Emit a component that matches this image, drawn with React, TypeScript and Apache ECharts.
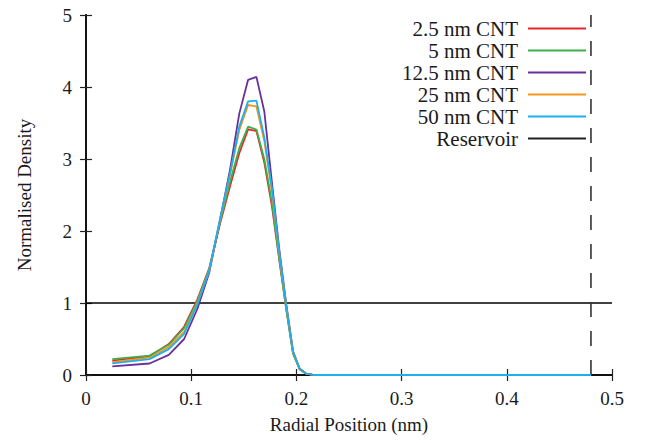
import React, { useEffect, useRef } from "react";
import * as echarts from "echarts";

const radius = [0.025, 0.0604, 0.0787, 0.0933, 0.1059, 0.1171, 0.1274, 0.1369, 0.1457, 0.1541, 0.162, 0.1695, 0.1767, 0.1837, 0.1904, 0.1968, 0.2031, 0.2091, 0.215, 0.2208, 0.25, 0.3, 0.35, 0.4, 0.45, 0.48];
const cnt2_5 = [0.20, 0.26, 0.43, 0.67, 1.05, 1.48, 2.10, 2.62, 3.08, 3.41, 3.39, 2.95, 2.35, 1.60, 0.92, 0.30, 0.08, 0.02, 0.005, 0, 0, 0, 0, 0, 0, 0];
const cnt5 = [0.22, 0.27, 0.42, 0.65, 1.03, 1.47, 2.12, 2.68, 3.15, 3.45, 3.41, 3.00, 2.40, 1.62, 0.90, 0.30, 0.08, 0.02, 0.005, 0, 0, 0, 0, 0, 0, 0];
const cnt12_5 = [0.12, 0.16, 0.28, 0.50, 0.92, 1.42, 2.15, 2.85, 3.63, 4.10, 4.14, 3.66, 2.68, 1.75, 0.98, 0.33, 0.09, 0.02, 0.005, 0, 0, 0, 0, 0, 0, 0];
const cnt25 = [0.18, 0.24, 0.39, 0.60, 1.00, 1.45, 2.15, 2.78, 3.40, 3.75, 3.73, 3.25, 2.55, 1.68, 0.95, 0.32, 0.08, 0.02, 0.005, 0, 0, 0, 0, 0, 0, 0];
const cnt50 = [0.16, 0.22, 0.36, 0.57, 0.98, 1.45, 2.17, 2.80, 3.45, 3.80, 3.81, 3.30, 2.60, 1.70, 0.95, 0.32, 0.08, 0.02, 0.005, 0, 0, 0, 0, 0, 0, 0];

const seriesNames = ["2.5 nm CNT", "5 nm CNT", "12.5 nm CNT", "25 nm CNT", "50 nm CNT"];
const seriesColors = ["#e8252b", "#3db04b", "#6a2f98", "#f7951d", "#1ab1ec"];
const seriesValues = [cnt2_5, cnt5, cnt12_5, cnt25, cnt50];

const reservoirX = [0, 0.5];
const reservoirY = [1, 1];
const wallX = [0.48, 0.48];
const wallY = [0, 5];

const FONT = "Liberation Serif";

export default function App() {
  const ref = useRef<HTMLDivElement>(null);
  useEffect(() => {
    if (!ref.current) return;
    const chart = echarts.init(ref.current, undefined, { renderer: "svg" });
    const axisLine = { show: true, lineStyle: { color: "#111", width: 1.8 } };
    const tick = { show: true, inside: true, length: 6, lineStyle: { color: "#222", width: 1.2 } };
    const label = { fontFamily: FONT, fontSize: 19, color: "#1a1a1a" };
    const lineSeries = seriesNames.map((name, i) => ({
      name,
      type: "line",
      data: radius.map((x, j) => [x, seriesValues[i][j]]),
      symbol: "none",
      lineStyle: { color: seriesColors[i], width: 1.8 },
      itemStyle: { color: seriesColors[i] },
      z: 3,
    }));
    chart.setOption({
      animation: false,
      grid: { left: 86, right: 34, top: 15, bottom: 68 },
      legend: {
        orient: "vertical",
        align: "right",
        right: 60,
        top: 18,
        padding: 0,
        itemWidth: 58,
        itemHeight: 20,
        itemGap: 1,
        icon: "path://M0,0H58V2H0Z",
        symbolKeepAspect: true,
        data: [...seriesNames, "Reservoir"],
        textStyle: { fontFamily: FONT, fontSize: 21, color: "#1a1a1a", lineHeight: 20, padding: [0, 5, 0, 0] },
      },
      xAxis: [
        {
          type: "value",
          min: 0,
          max: 0.5,
          interval: 0.1,
          name: "Radial Position (nm)",
          nameLocation: "middle",
          nameGap: 40,
          nameTextStyle: { fontFamily: FONT, fontSize: 19, color: "#1a1a1a" },
          axisLine,
          axisTick: tick,
          axisLabel: { ...label, margin: 14 },
          splitLine: { show: false },
        },
        {
          type: "value",
          position: "top",
          min: 0,
          max: 0.5,
          interval: 0.1,
          axisLine,
          axisTick: tick,
          axisLabel: { show: false },
          splitLine: { show: false },
        },
      ],
      yAxis: [
        {
          type: "value",
          min: 0,
          max: 5,
          interval: 1,
          name: "Normalised Density",
          nameLocation: "middle",
          nameGap: 52,
          nameTextStyle: { fontFamily: FONT, fontSize: 19, color: "#1a1a1a" },
          axisLine,
          axisTick: tick,
          axisLabel: { ...label, margin: 14 },
          splitLine: { show: false },
        },
        {
          type: "value",
          position: "right",
          min: 0,
          max: 5,
          interval: 1,
          axisLine,
          axisTick: tick,
          axisLabel: { show: false },
          splitLine: { show: false },
        },
      ],
      series: [
        ...lineSeries,
        {
          name: "Reservoir",
          type: "line",
          data: reservoirX.map((x, j) => [x, reservoirY[j]]),
          symbol: "none",
          lineStyle: { color: "#000", width: 1.4 },
          itemStyle: { color: "#222" },
          z: 2,
        },
        {
          name: "wall",
          type: "line",
          data: wallX.map((x, j) => [x, wallY[j]]),
          symbol: "none",
          lineStyle: { color: "#333", width: 1.6, type: [15, 14] },
          itemStyle: { color: "#333" },
          z: 2,
        },
      ],
    });
    return () => chart.dispose();
  }, []);
  return <div ref={ref} style={{ width: 646, height: 443, position: "absolute", left: 0, top: 0 }} />;
}
